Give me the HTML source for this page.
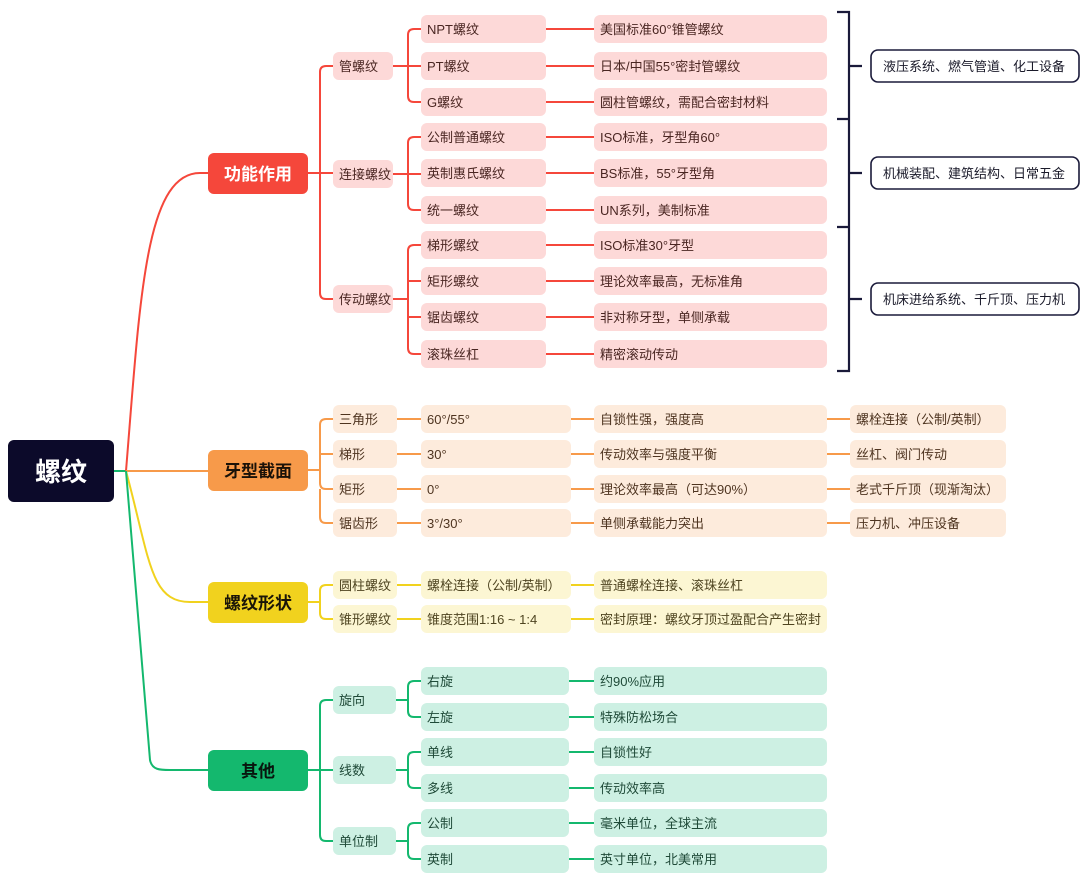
<!DOCTYPE html>
<html><head><meta charset="utf-8"><style>
body{margin:0;background:#fff}
svg text{font-family:"Liberation Sans","Noto Sans CJK SC",sans-serif}
</style></head><body>
<svg width="1090" height="886" viewBox="0 0 1090 886" xmlns="http://www.w3.org/2000/svg">
<g fill="none" stroke-width="2">
<!-- root curves -->
<path d="M114,471 H126" stroke="#14b86e"/>
<path d="M126,471 C140,300 145,173 200,173 H208" stroke="#f5473b"/>
<path d="M126,471 H208" stroke="#f79a4a"/>
<path d="M126,471 C150,560 150,602 190,602 H208" stroke="#f1d21e"/>
<path d="M126,471 L150,760 C152,770 160,770 170,770 H208" stroke="#14b86e"/>
<!-- red -->
<g stroke="#f5473b">
<path d="M308,173 H333"/>
<path d="M320,173 V72 Q320,66 326,66 H333"/>
<path d="M320,173 V293 Q320,299 326,299 H333"/>
<path d="M393,66 H421 M408,66 V35 Q408,29 414,29 H421 M408,66 V96 Q408,102 414,102 H421"/>
<path d="M393,174 H421 M408,174 V143 Q408,137 414,137 H421 M408,174 V204 Q408,210 414,210 H421"/>
<path d="M393,299 H408 M408,299 V251 Q408,245 414,245 H421 M408,299 V348 Q408,354 414,354 H421 M408,281 H421 M408,317 H421"/>
<path d="M546,29H594M546,66H594M546,102H594M546,137H594M546,173H594M546,210H594M546,245H594M546,281H594M546,317H594M546,354H594"/>
</g>
<!-- orange -->
<g stroke="#f79a4a">
<path d="M308,470 H320 M320,470 V425 Q320,419 326,419 H333 M320,454 H333 M320,470 V483 Q320,489 326,489 H333 M320,489 V517 Q320,523 326,523 H333"/>
<path d="M397,419H421M397,454H421M397,489H421M397,523H421"/>
<path d="M571,419H594M571,454H594M571,489H594M571,523H594"/>
<path d="M827,419H850M827,454H850M827,489H850M827,523H850"/>
</g>
<!-- yellow -->
<g stroke="#f1d21e">
<path d="M308,602 H320 M320,602 V591 Q320,585 326,585 H333 M320,602 V613 Q320,619 326,619 H333"/>
<path d="M397,585H421M397,619H421M571,585H594M571,619H594"/>
</g>
<!-- green -->
<g stroke="#14b86e">
<path d="M308,770 H333 M320,770 V706 Q320,700 326,700 H333 M320,770 V835 Q320,841 326,841 H333"/>
<path d="M396,700 H408 M408,700 V687 Q408,681 414,681 H421 M408,700 V711 Q408,717 414,717 H421"/>
<path d="M396,770 H408 M408,770 V758 Q408,752 414,752 H421 M408,770 V782 Q408,788 414,788 H421"/>
<path d="M396,841 H408 M408,841 V829 Q408,823 414,823 H421 M408,841 V853 Q408,859 414,859 H421"/>
<path d="M569,681H594M569,717H594M569,752H594M569,788H594M569,823H594M569,859H594"/>
</g>
<!-- bracket -->
<g stroke="#1a1a3a" stroke-width="2.2">
<path d="M837,12 H849 V371 H837 M837,119 H849 M837,227 H849 M849,66 H862 M849,173 H862 M849,299 H862"/>
</g>
</g>
<!-- root and L1 -->
<rect x="8" y="440" width="106" height="62" rx="6" fill="#0c0a2a"/>
<text x="61" y="481" fill="#fff" font-size="26" font-weight="bold" text-anchor="middle">螺纹</text>
<rect x="208" y="153" width="100" height="41" rx="6" fill="#f5473b"/>
<text x="258" y="180" fill="#fff" font-size="17" font-weight="bold" text-anchor="middle">功能作用</text>
<rect x="208" y="450" width="100" height="41" rx="6" fill="#f79a4a"/>
<text x="258" y="477" fill="#1a1208" font-size="17" font-weight="bold" text-anchor="middle">牙型截面</text>
<rect x="208" y="582" width="100" height="41" rx="6" fill="#f1d21e"/>
<text x="258" y="609" fill="#1a1508" font-size="17" font-weight="bold" text-anchor="middle">螺纹形状</text>
<rect x="208" y="750" width="100" height="41" rx="6" fill="#14b86e"/>
<text x="258" y="777" fill="#08160e" font-size="17" font-weight="bold" text-anchor="middle">其他</text>

<g font-size="13">
<!-- red -->
<g fill="#fdd9d8">
<rect x="333" y="52" width="60" height="28" rx="6"/><rect x="333" y="160" width="60" height="28" rx="6"/><rect x="333" y="285" width="60" height="28" rx="6"/>
<rect x="421" y="15" width="125" height="28" rx="6"/><rect x="421" y="52" width="125" height="28" rx="6"/><rect x="421" y="88" width="125" height="28" rx="6"/>
<rect x="421" y="123" width="125" height="28" rx="6"/><rect x="421" y="159" width="125" height="28" rx="6"/><rect x="421" y="196" width="125" height="28" rx="6"/>
<rect x="421" y="231" width="125" height="28" rx="6"/><rect x="421" y="267" width="125" height="28" rx="6"/><rect x="421" y="303" width="125" height="28" rx="6"/><rect x="421" y="340" width="125" height="28" rx="6"/>
<rect x="594" y="15" width="233" height="28" rx="6"/><rect x="594" y="52" width="233" height="28" rx="6"/><rect x="594" y="88" width="233" height="28" rx="6"/>
<rect x="594" y="123" width="233" height="28" rx="6"/><rect x="594" y="159" width="233" height="28" rx="6"/><rect x="594" y="196" width="233" height="28" rx="6"/>
<rect x="594" y="231" width="233" height="28" rx="6"/><rect x="594" y="267" width="233" height="28" rx="6"/><rect x="594" y="303" width="233" height="28" rx="6"/><rect x="594" y="340" width="233" height="28" rx="6"/>
</g>
<g fill="#4a2622">
<text x="339" y="71">管螺纹</text><text x="339" y="179">连接螺纹</text><text x="339" y="304">传动螺纹</text>
<text x="427" y="34">NPT螺纹</text><text x="427" y="71">PT螺纹</text><text x="427" y="107">G螺纹</text>
<text x="427" y="142">公制普通螺纹</text><text x="427" y="178">英制惠氏螺纹</text><text x="427" y="215">统一螺纹</text>
<text x="427" y="250">梯形螺纹</text><text x="427" y="286">矩形螺纹</text><text x="427" y="322">锯齿螺纹</text><text x="427" y="359">滚珠丝杠</text>
<text x="600" y="34">美国标准60°锥管螺纹</text><text x="600" y="71">日本/中国55°密封管螺纹</text><text x="600" y="107">圆柱管螺纹，需配合密封材料</text>
<text x="600" y="142">ISO标准，牙型角60°</text><text x="600" y="178">BS标准，55°牙型角</text><text x="600" y="215">UN系列，美制标准</text>
<text x="600" y="250">ISO标准30°牙型</text><text x="600" y="286">理论效率最高，无标准角</text><text x="600" y="322">非对称牙型，单侧承载</text><text x="600" y="359">精密滚动传动</text>
</g>
<!-- bracket labels -->
<g fill="#fff" stroke="#1a1a3a" stroke-width="1.6">
<rect x="871" y="50" width="208" height="32" rx="7"/><rect x="871" y="157" width="208" height="32" rx="7"/><rect x="871" y="283" width="208" height="32" rx="7"/>
</g>
<g fill="#1a1a2a">
<text x="883" y="71">液压系统、燃气管道、化工设备</text>
<text x="883" y="178">机械装配、建筑结构、日常五金</text>
<text x="883" y="304">机床进给系统、千斤顶、压力机</text>
</g>
<!-- orange -->
<g fill="#fdebdc">
<rect x="333" y="405" width="64" height="28" rx="6"/><rect x="333" y="440" width="64" height="28" rx="6"/><rect x="333" y="475" width="64" height="28" rx="6"/><rect x="333" y="509" width="64" height="28" rx="6"/>
<rect x="421" y="405" width="150" height="28" rx="6"/><rect x="421" y="440" width="150" height="28" rx="6"/><rect x="421" y="475" width="150" height="28" rx="6"/><rect x="421" y="509" width="150" height="28" rx="6"/>
<rect x="594" y="405" width="233" height="28" rx="6"/><rect x="594" y="440" width="233" height="28" rx="6"/><rect x="594" y="475" width="233" height="28" rx="6"/><rect x="594" y="509" width="233" height="28" rx="6"/>
<rect x="850" y="405" width="156" height="28" rx="6"/><rect x="850" y="440" width="156" height="28" rx="6"/><rect x="850" y="475" width="156" height="28" rx="6"/><rect x="850" y="509" width="156" height="28" rx="6"/>
</g>
<g fill="#4e3420">
<text x="339" y="424">三角形</text><text x="339" y="459">梯形</text><text x="339" y="494">矩形</text><text x="339" y="528">锯齿形</text>
<text x="427" y="424">60°/55°</text><text x="427" y="459">30°</text><text x="427" y="494">0°</text><text x="427" y="528">3°/30°</text>
<text x="600" y="424">自锁性强，强度高</text><text x="600" y="459">传动效率与强度平衡</text><text x="600" y="494">理论效率最高（可达90%）</text><text x="600" y="528">单侧承载能力突出</text>
<text x="856" y="424">螺栓连接（公制/英制）</text><text x="856" y="459">丝杠、阀门传动</text><text x="856" y="494">老式千斤顶（现渐淘汰）</text><text x="856" y="528">压力机、冲压设备</text>
</g>
<!-- yellow -->
<g fill="#fcf6d3">
<rect x="333" y="571" width="64" height="28" rx="6"/><rect x="333" y="605" width="64" height="28" rx="6"/>
<rect x="421" y="571" width="150" height="28" rx="6"/><rect x="421" y="605" width="150" height="28" rx="6"/>
<rect x="594" y="571" width="233" height="28" rx="6"/><rect x="594" y="605" width="233" height="28" rx="6"/>
</g>
<g fill="#4e4420">
<text x="339" y="590">圆柱螺纹</text><text x="339" y="624">锥形螺纹</text>
<text x="427" y="590">螺栓连接（公制/英制）</text><text x="427" y="624">锥度范围1:16 ~ 1:4</text>
<text x="600" y="590">普通螺栓连接、滚珠丝杠</text><text x="600" y="624">密封原理：螺纹牙顶过盈配合产生密封</text>
</g>
<!-- green -->
<g fill="#cdf0e3">
<rect x="333" y="686" width="63" height="28" rx="6"/><rect x="333" y="756" width="63" height="28" rx="6"/><rect x="333" y="827" width="63" height="28" rx="6"/>
<rect x="421" y="667" width="148" height="28" rx="6"/><rect x="421" y="703" width="148" height="28" rx="6"/><rect x="421" y="738" width="148" height="28" rx="6"/><rect x="421" y="774" width="148" height="28" rx="6"/><rect x="421" y="809" width="148" height="28" rx="6"/><rect x="421" y="845" width="148" height="28" rx="6"/>
<rect x="594" y="667" width="233" height="28" rx="6"/><rect x="594" y="703" width="233" height="28" rx="6"/><rect x="594" y="738" width="233" height="28" rx="6"/><rect x="594" y="774" width="233" height="28" rx="6"/><rect x="594" y="809" width="233" height="28" rx="6"/><rect x="594" y="845" width="233" height="28" rx="6"/>
</g>
<g fill="#1f4a38">
<text x="339" y="705">旋向</text><text x="339" y="775">线数</text><text x="339" y="846">单位制</text>
<text x="427" y="686">右旋</text><text x="427" y="722">左旋</text><text x="427" y="757">单线</text><text x="427" y="793">多线</text><text x="427" y="828">公制</text><text x="427" y="864">英制</text>
<text x="600" y="686">约90%应用</text><text x="600" y="722">特殊防松场合</text><text x="600" y="757">自锁性好</text><text x="600" y="793">传动效率高</text><text x="600" y="828">毫米单位，全球主流</text><text x="600" y="864">英寸单位，北美常用</text>
</g>
</g>
</svg>
</body></html>
